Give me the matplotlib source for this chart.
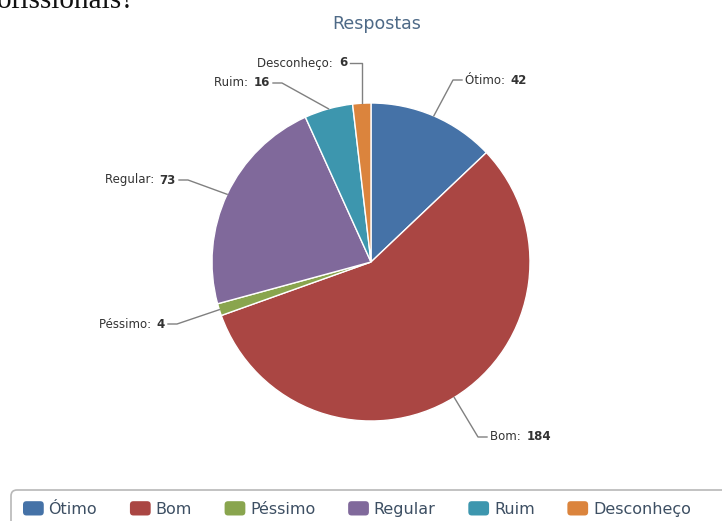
import numpy as np
import matplotlib
matplotlib.use("Agg")
import matplotlib.pyplot as plt
from matplotlib.patches import FancyBboxPatch
from matplotlib.legend_handler import HandlerPatch

# ---- data ----
categories = ["Ótimo", "Bom", "Péssimo", "Regular", "Ruim", "Desconheço"]
values = [42, 184, 4, 73, 16, 6]
colors = ["#4572A7", "#AA4643", "#89A54E", "#80699B", "#3D96AE", "#DB843D"]
title = "Respostas"
question_fragment = "ofissionais?"

# ---- layout (pixel units, y measured from top) ----
W, H = 722, 521
CX, CY, R = 371, 262, 159
# label anchor points (x, y) and alignment for each slice
label_pos = {
    "Ótimo": (465, 80, "left"),
    "Bom": (490, 437, "left"),
    "Péssimo": (165, 324, "right"),
    "Regular": (176, 180, "right"),
    "Ruim": (270, 83, "right"),
    "Desconheço": (347, 63, "right"),
}

def py(y):
    return H - y

fig = plt.figure(figsize=(W / 100, H / 100), dpi=100)
ax = fig.add_axes([0, 0, 1, 1])

wedges, _ = ax.pie(values, colors=colors, startangle=90, counterclock=False,
                   center=(CX, py(CY)), radius=R,
                   wedgeprops=dict(edgecolor="white", linewidth=1.0))
ax.set_xlim(0, W)
ax.set_ylim(0, H)
ax.set_aspect("auto")
ax.axis("off")

# ---- data labels with connectors ----
for w, cat, val in zip(wedges, categories, values):
    mid = np.deg2rad((w.theta1 + w.theta2) / 2)
    ex = CX + R * np.cos(mid)
    ey = py(CY) + R * np.sin(mid)
    tx, ty, ha = label_pos[cat]
    tyd = py(ty)
    if ha == "left":
        bend = tx - 12
        end = tx - 3
    else:
        bend = tx + 12
        end = tx + 3
    if cat == "Desconheço":
        bend = ex
    ax.plot([ex, bend, end], [ey, tyd, tyd], color="#808080", lw=1.0,
            solid_joinstyle="round", zorder=3)
    if ha == "left":
        t1 = ax.text(tx, tyd, f"{cat}: ", ha="left", va="center",
                     fontsize=8.5, color="#333333")
        fig.canvas.draw()
        bb = t1.get_window_extent()
        x2 = ax.transData.inverted().transform((bb.x1, bb.y0))[0]
        ax.text(x2 + 2, tyd, f"{val}", ha="left", va="center", fontsize=8.5,
                fontweight="bold", color="#333333")
    else:
        t2 = ax.text(tx, tyd, f"{val}", ha="right", va="center", fontsize=8.5,
                     fontweight="bold", color="#333333")
        fig.canvas.draw()
        bb = t2.get_window_extent()
        x1 = ax.transData.inverted().transform((bb.x0, bb.y0))[0]
        ax.text(x1 - 2, tyd, f"{cat}: ", ha="right", va="center", fontsize=8.5,
                color="#333333")

# ---- title and cut-off question text ----
ax.text(377, py(24), title, ha="center", va="center", fontsize=12.5,
        color="#4e6a87")
ax.text(-3, py(8), question_fragment, ha="left", va="baseline",
        fontsize=21, family="Liberation Serif", color="#111111")

# ---- legend box ----
box = FancyBboxPatch((11, py(540)), 760, 50,
                     boxstyle="round,pad=0,rounding_size=6",
                     facecolor="white", edgecolor="#b8b8b8", lw=1.2,
                     zorder=1, clip_on=False)
ax.add_patch(box)


class RoundHandler(HandlerPatch):
    def create_artists(self, legend, orig_handle, xdescent, ydescent,
                       width, height, fontsize, trans):
        p = FancyBboxPatch((-xdescent, -ydescent), width, height,
                           boxstyle="round,pad=0,rounding_size=2.5",
                           facecolor=orig_handle.get_facecolor(),
                           edgecolor="none", transform=trans)
        return [p]


leg = ax.legend(handles=wedges, labels=categories, ncol=6,
                loc="center left", bbox_to_anchor=(23, py(509)),
                bbox_transform=ax.transData, frameon=False,
                fontsize=11.5, handlelength=1.3, handleheight=1.0,
                handletextpad=0.3, columnspacing=2.05, borderpad=0,
                borderaxespad=0, labelcolor="#3d4f63",
                handler_map={matplotlib.patches.Wedge: RoundHandler()})
leg.set_zorder(5)

fig.savefig("out.png", dpi=100)
